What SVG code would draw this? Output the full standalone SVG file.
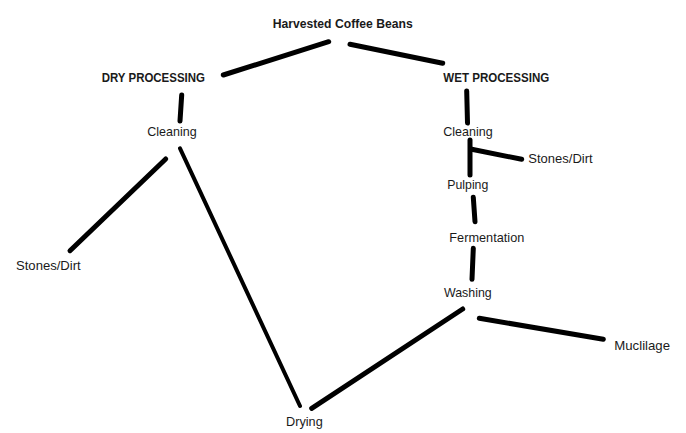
<svg xmlns="http://www.w3.org/2000/svg" width="686" height="433" viewBox="0 0 686 433">
<style>
text{font-family:"Liberation Sans",Arial,sans-serif;font-size:13.5px;fill:#1a1a1a}
.b{font-weight:bold}
#connectors line{stroke:#000;stroke-width:5;stroke-linecap:round}
#connectors line.t{stroke-width:4}
</style>
<rect width="686" height="433" fill="#fff"/>
<g id="connectors">
<line x1="223.3" y1="75" x2="328.7" y2="41.7"/>
<line x1="350" y1="44.3" x2="442.7" y2="63.3"/>
<line x1="181.7" y1="95" x2="180" y2="121"/>
<line x1="466.7" y1="91" x2="467.5" y2="123"/>
<line x1="165.7" y1="159" x2="70" y2="250.7"/>
<line class="t" x1="180" y1="148.3" x2="300" y2="406"/>
<line x1="311.7" y1="408.3" x2="462.7" y2="309"/>
<line x1="470" y1="140" x2="470" y2="175"/>
<line x1="471.7" y1="149.3" x2="521.7" y2="159.3"/>
<line x1="473.3" y1="197.3" x2="475" y2="221.7"/>
<line x1="473.3" y1="248.3" x2="472" y2="279.3"/>
<line x1="479.3" y1="318.3" x2="603.3" y2="339.3"/>
</g>
<g id="harvested"><text class="b" x="272.7" y="28" textLength="140" lengthAdjust="spacingAndGlyphs">Harvested Coffee Beans</text></g>
<g id="dry"><text class="b" x="101.7" y="81.7" textLength="103.3" lengthAdjust="spacingAndGlyphs">DRY PROCESSING</text></g>
<g id="wet"><text class="b" x="443.3" y="81.7" textLength="106" lengthAdjust="spacingAndGlyphs">WET PROCESSING</text></g>
<g id="dry-cleaning"><text x="147.3" y="135.5" textLength="49.4" lengthAdjust="spacingAndGlyphs">Cleaning</text></g>
<g id="wet-cleaning"><text x="443.3" y="135.5" textLength="49.4" lengthAdjust="spacingAndGlyphs">Cleaning</text></g>
<g id="dry-stones"><text x="16" y="269.5" textLength="64.7" lengthAdjust="spacingAndGlyphs">Stones/Dirt</text></g>
<g id="wet-stones"><text x="528.3" y="162.5" textLength="64.4" lengthAdjust="spacingAndGlyphs">Stones/Dirt</text></g>
<g id="pulping"><text x="447.3" y="188.7" textLength="41" lengthAdjust="spacingAndGlyphs">Pulping</text></g>
<g id="fermentation"><text x="449.3" y="242.3" textLength="75" lengthAdjust="spacingAndGlyphs">Fermentation</text></g>
<g id="washing"><text x="444" y="296.5" textLength="47.7" lengthAdjust="spacingAndGlyphs">Washing</text></g>
<g id="muclilage"><text x="614.3" y="350" textLength="55.7" lengthAdjust="spacingAndGlyphs">Muclilage</text></g>
<g id="drying"><text x="286" y="426" textLength="36.7" lengthAdjust="spacingAndGlyphs">Drying</text></g>
</svg>
